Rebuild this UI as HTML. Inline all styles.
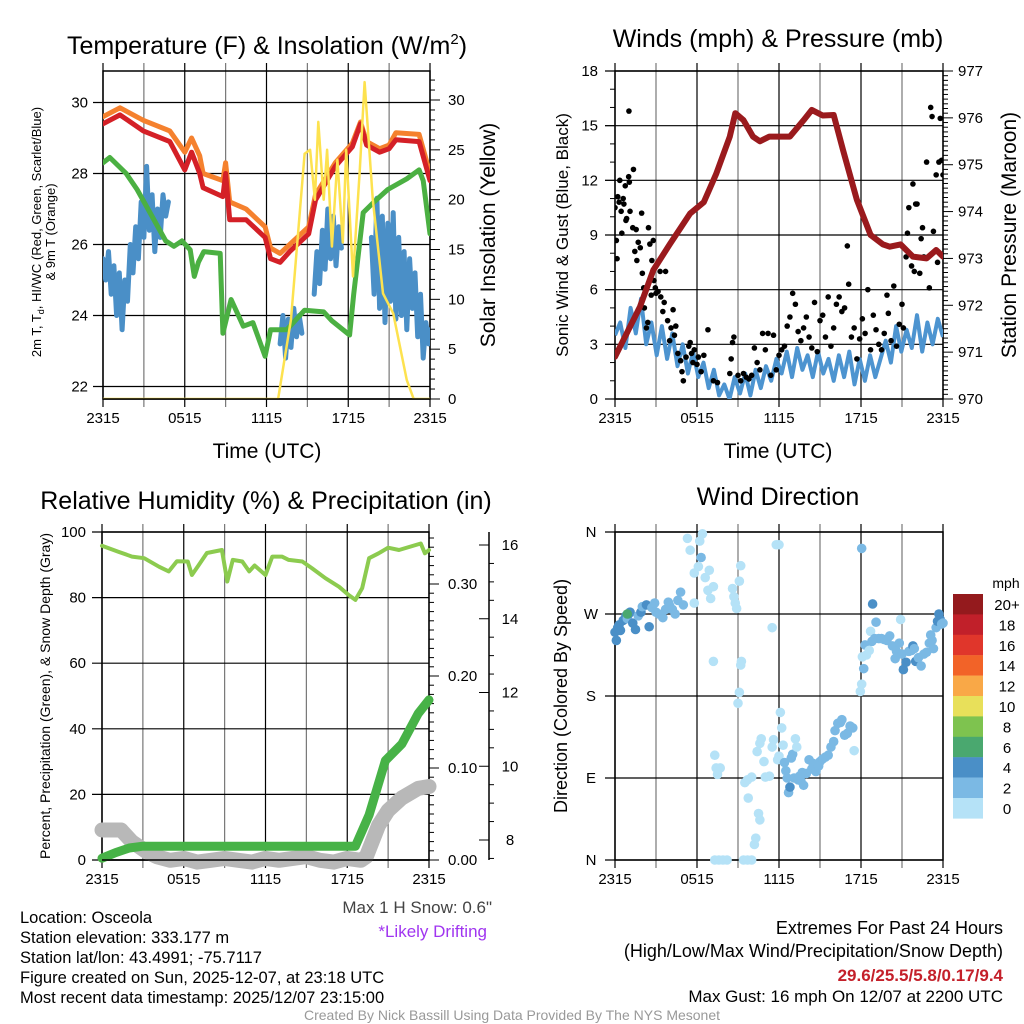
<!DOCTYPE html>
<html><head><meta charset="utf-8"><style>
html,body{margin:0;padding:0;background:#fff;}
svg{display:block;font-family:"Liberation Sans",Arial,sans-serif;}
</style></head><body>
<svg id="chart" width="1024" height="1024" viewBox="0 0 1024 1024" xmlns="http://www.w3.org/2000/svg"></svg>
<script>
// ---------- DATA ----------
const xTickLabels = ["2315","0515","1115","1715","2315"];
// Panel 1: temperature
const tempHours = [0,1.25,2.96,4.9,6,6.5,7.1,7.35,8.8,9,9.3,10.5,11.9,12.3,13,13.7,15.1,15.6,17.05,18.3,18.9,19.35,20.3,21,21.5,23.2,24];
const tempVals  = [29.4,29.65,29.2,28.9,28.1,28.6,28.0,27.6,27.35,28.0,26.7,26.7,26.2,25.6,25.5,25.8,26.3,27.25,28.2,28.75,29.4,28.8,28.6,28.7,28.95,28.9,27.8];
const t9Hours = [0,1.25,2.96,4.9,6,6.5,7.1,7.35,8.8,9,9.3,10.5,11.9,12.3,13,13.7,15.1,15.6,17.05,18.3,18.9,19.35,20.3,21,21.5,23.2,24];
const t9Vals  = [29.6,29.85,29.5,29.2,28.6,29.0,28.5,28.0,27.8,28.3,27.2,27.0,26.5,25.9,25.75,26.0,26.5,27.4,28.3,28.85,29.45,28.9,28.7,28.8,29.15,29.1,28.0];
const dewHours = [0,0.5,1.7,2.5,4.6,5.2,5.8,6.4,6.7,7.0,7.4,8.6,8.8,9.4,10.3,11,11.9,12.3,13.5,14.8,16.2,16.8,18.1,18.4,19.1,19.9,20.9,22.3,23.2,23.5,24];
const dewVals  = [28.3,28.45,28.0,27.55,26.1,25.95,26.1,25.85,25.1,25.5,25.8,25.75,23.5,24.45,23.7,23.8,22.85,23.6,23.6,24.15,24.1,23.85,23.45,24.6,26.9,27.2,27.55,27.85,28.1,27.8,26.3];
const wcSeg1Hours = [0,0.2,0.4,0.6,0.8,1.0,1.2,1.4,1.6,1.8,2.0,2.2,2.4,2.6,2.8,3.0,3.2,3.4,3.6,3.8,4.0,4.2,4.4,4.6,4.8];
const wcSeg1Vals  = [25.6,25.0,25.8,24.6,25.4,24.0,25.2,23.6,25.0,24.4,26.0,25.2,26.5,25.6,27.2,26.2,28.2,26.4,27.4,25.8,27.0,26.2,27.4,26.8,27.2];
const wcSeg2Hours = [13.0,13.2,13.4,13.6,13.8,14.0,14.2,14.4,14.6];
const wcSeg2Vals  = [23.2,24.0,22.8,23.9,23.1,24.2,23.4,24.0,23.5];
const wcSeg3Hours = [15.5,15.7,15.9,16.1,16.3,16.5,16.7,16.9,17.1,17.3,17.5];
const wcSeg3Vals  = [24.6,25.8,24.9,26.4,25.3,27.0,25.6,26.8,25.4,26.5,25.9];
const wcSeg4Hours = [19.7,19.9,20.1,20.3,20.5,20.7,20.9,21.1,21.3,21.5,21.7,21.9,22.1,22.3,22.5,22.7,22.9,23.1,23.3,23.5,23.7,23.9,24];
const wcSeg4Vals  = [26.2,24.6,27.3,24.2,26.8,23.8,26.6,24.4,26.9,23.9,26.2,24.0,25.8,23.6,25.6,24.2,25.2,23.4,24.6,22.8,23.8,23.2,23.6];
const solarHours = [0,12.85,13.8,14.8,15.2,15.55,15.8,16.2,16.45,16.8,17.2,17.6,17.85,18.35,18.85,19.2,19.8,20.55,21.3,22.3,22.8,24];
const solarVals  = [0,0,8,24.6,25,20,27.8,20,25,15.3,24,15.7,25,12.3,23,31.8,20,10.6,8.6,1.9,0,0];
// Panel 2: winds & pressure
const presHours = [0,1.83,2.8,4.0,5.5,6.5,7.4,8.4,8.8,9.4,10.1,10.6,11.3,12.1,12.8,13.8,14.4,15.2,16.0,16.7,17.7,18.7,19.6,20.1,20.9,21.8,22.8,23.5,24];
const presVals  = [970.9,971.97,972.75,973.3,973.96,974.2,974.8,975.6,976.1,975.95,975.6,975.5,975.6,975.6,975.6,975.95,976.17,976.05,976.06,975.3,974.25,973.5,973.3,973.25,973.3,973.04,973.0,973.18,973.04];
const windVals = [3.5,4.2,2.8,5.0,3.6,5.5,3.0,4.2,2.4,4.0,2.2,3.6,1.8,3.0,1.4,2.6,1.2,2.0,0.6,1.6,0.2,0.8,0.0,1.2,0.3,1.4,0.2,1.6,0.6,1.8,1.0,2.2,1.4,2.6,1.2,2.8,1.6,2.4,1.2,2.6,1.4,2.2,1.0,2.4,1.2,2.6,0.8,2.2,1.0,2.4,1.2,2.2,3.2,2.0,4.0,2.6,3.8,2.8,4.6,2.6,4.2,3.0,4.4,3.4];
const gustHours = [0.0,0.1,0.15,0.2,0.3,0.35,0.45,0.5,0.6,0.65,0.75,0.8,0.85,1.0,1.02,1.05,1.1,1.3,1.35,1.45,1.55,1.6,1.7,1.85,1.95,2.0,2.1,2.15,2.3,2.4,2.45,2.55,2.65,2.7,2.8,2.85,2.95,3.0,3.15,3.3,3.35,3.5,3.6,3.7,3.85,4.0,4.1,4.25,4.35,4.45,4.6,4.8,4.9,5.0,5.2,5.4,5.5,5.6,5.7,5.8,6.0,6.1,6.3,6.5,6.8,7.2,7.5,8.4,8.5,8.6,8.7,9.0,9.2,9.4,9.6,9.8,10.0,10.2,10.4,10.6,10.8,11.0,11.2,11.4,11.6,11.8,12.0,12.2,12.4,12.6,12.8,13.0,13.2,13.4,13.6,13.8,14.0,14.2,14.4,14.6,14.8,15.0,15.2,15.4,15.6,15.8,16.0,16.2,16.4,16.6,16.8,17.0,17.1,17.3,17.5,17.7,17.9,18.1,18.3,18.5,18.7,18.9,19.1,19.3,19.5,19.7,19.9,20.0,20.2,20.4,20.6,20.8,21.0,21.1,21.3,21.4,21.5,21.7,21.8,21.9,22.0,22.1,22.3,22.4,22.5,22.6,22.8,23.0,23.1,23.2,23.3,23.5,23.6,23.7,23.8,23.9,24.0];
const gustVals  = [10.5,8.7,7.7,11.1,10.8,12.0,10.3,9.1,11.0,10.7,11.7,9.8,9.9,12.2,15.8,11.9,10.3,9.4,12.6,8.1,9.3,7.6,8.6,8.3,10.2,6.9,6.1,5.0,3.9,4.2,9.4,8.5,5.7,7.6,8.7,6.5,6.1,5.8,5.9,7.0,5.6,4.8,5.3,7.0,4.3,3.2,3.9,4.9,3.5,4.0,2.5,2.1,1.5,1.0,2.3,2.9,3.1,2.5,2.0,2.7,1.9,2.3,1.5,2.4,3.8,1.0,0.9,1.4,2.2,3.1,3.4,1.3,1.0,1.4,1.2,1.1,1.3,2.8,2.0,1.6,3.6,2.7,3.6,1.3,3.5,1.6,2.4,2.7,2.9,4.0,4.5,5.8,5.2,3.7,3.2,3.9,4.5,3.4,2.8,5.3,2.6,4.3,4.6,3.4,5.6,2.9,3.9,5.2,5.6,4.8,5.0,8.4,6.3,3.4,3.9,2.2,3.3,4.4,3.6,6.0,2.7,4.6,3.8,3.0,2.7,3.6,5.7,4.7,3.2,6.2,2.9,4.1,5.2,3.9,7.8,9.1,10.5,7.3,11.8,7.0,10.7,10.7,6.9,8.8,9.4,7.8,13.0,6.1,16.0,15.5,9.2,12.3,7.5,13.0,15.4,13.1,12.3];
// Panel 3: RH, precip, snow
const rhHours = [0,1.2,2.2,3.1,4.2,4.9,5.5,6.3,6.6,7.1,7.7,8.8,9.2,9.6,10.3,10.8,11.2,12.0,12.5,13.2,13.7,14.7,15.4,16.4,17.4,18.1,18.6,19.1,19.6,20.3,21.0,21.8,23.4,23.7,24];
const rhVals  = [95.8,94.0,92.5,92.0,89.4,88.0,91.1,91.0,86.9,89.9,93.6,94.5,84.9,91.5,91.0,88.0,89.8,86.9,92.5,92.5,91.5,91.0,89.0,85.9,83.3,80.8,79.3,82.9,92.0,93.5,95.2,94.5,96.5,93.5,94.5];
const precipHours = [0,1,2,3,18.6,19.6,20.8,22.0,23.2,24];
const precipVals  = [0.002,0.008,0.013,0.015,0.015,0.049,0.108,0.126,0.159,0.174];
const snowHours = [0,1.4,2.2,3.2,4,5,6,7,8,9,10,11,12,13,14,15,16,17,18,19,19.4,20.3,21,22,23.2,24];
const snowVals  = [8.27,8.27,7.95,7.7,7.55,7.45,7.5,7.4,7.45,7.5,7.45,7.4,7.5,7.45,7.5,7.55,7.45,7.4,7.5,7.45,7.55,8.4,8.8,9.14,9.4,9.45];
// Panel 4: wind direction
const dirHours = [0.0,0.1,0.2,0.3,0.4,0.6,0.8,0.9,1.0,1.1,1.3,1.5,1.7,1.9,2.0,2.3,2.5,2.7,2.9,3.0,3.2,3.5,3.7,3.9,4.0,4.2,4.4,4.6,4.8,5.0,5.5,5.3,5.8,6.1,6.2,6.4,6.6,6.8,6.3,6.9,7.2,7.0,5.8,8.6,8.7,8.8,8.9,9.1,9.2,11.8,12.0,18.05,7.2,9.25,9.2,11.5,9.0,9.1,7.3,7.4,7.5,7.7,9.5,9.7,10.0,9.75,10.5,10.6,10.3,10.2,7.3,7.6,7.9,8.2,9.4,9.7,10.0,10.4,10.6,10.7,10.9,11.0,11.3,11.5,11.6,11.9,12.0,12.1,12.2,12.3,12.4,12.5,12.6,12.7,12.8,12.9,13.0,13.1,13.2,13.3,13.4,13.5,13.6,13.7,13.8,14.0,14.2,14.4,14.5,14.7,14.9,15.0,15.2,15.4,15.6,15.8,16.0,16.1,16.3,16.5,16.6,16.8,17.0,17.2,17.4,17.5,17.95,18.05,18.2,18.1,18.3,18.4,18.6,18.7,18.8,19.0,18.85,19.1,19.3,19.5,19.7,19.9,20.1,20.3,20.5,20.6,20.8,21.0,21.1,21.3,21.5,21.7,21.8,21.9,22.0,22.2,22.4,22.6,22.8,23.0,23.1,23.2,23.3,23.5,23.6,23.7,23.8,23.9,24.0,20.9,0.9];
const dirDegs  = [250,241,255,258,252,263,268,265,270,272,260,253,268,272,278,280,256,277,282,272,270,266,275,283,279,275,270,285,294,280,340,353,315,322,350,358,310,296,332,318,300,287,282,298,289,282,276,306,323,346,346,342,218,218,214,255,172,184,115,101,94,101,85,88,91,68,51,44,24,17,0,0,0,0,0,0,0,119,128,133,108,91,92,124,132,110,114,162,145,126,107,98,90,74,80,112,116,90,133,124,88,92,87,96,82,95,110,100,106,97,103,108,111,113,115,124,130,142,150,151,154,137,139,147,145,120,185,193,210,223,236,225,230,251,240,243,281,261,243,243,242,241,246,235,221,229,238,226,209,217,229,230,235,232,218,222,213,226,228,238,247,241,232,255,262,270,264,259,260,264,270];
const dirSpeeds = [4,4,4,5,4,4,5,3,5,4,4,5,3,4,3,4,4,3,3,3,2,2,3,3,3,3,3,3,3,2,1,0,1,1,1,1,1,1,3,1,1,1,0,1,1,1,1,1,1,1,1,2,1,1,1,1,1,1,1,1,1,1,1,1,1,1,1,1,1,1,1,1,1,1,1,1,1,1,1,1,1,1,1,1,1,1,1,1,1,1,2,2,3,3,4,2,3,2,1,1,3,3,2,2,2,3,2,2,3,2,3,2,2,3,2,3,2,2,2,3,3,3,2,2,2,1,1,1,2,1,2,1,1,1,2,2,4,3,2,2,2,2,2,3,3,3,2,3,4,4,3,3,4,3,4,3,3,3,2,3,3,2,3,3,4,4,4,3,3,0,6];
const cbLabels = ["20+","18","16","14","12","10","8","6","4","2","0"];
const cbColors = ["#941a1d","#c1202a","#e0362b","#f26328","#f9a847","#e8e05a","#7ec34f","#4aa86f","#4a8fc7","#7bb9e4","#b5e2f7"];

// ---------- HELPERS ----------
const NS = "http://www.w3.org/2000/svg";
const svg = document.getElementById("chart");
function mk(parent, tag, attrs, name, inter) {
  const el = document.createElementNS(NS, tag);
  for (const k in attrs) el.setAttribute(k, attrs[k]);
  
  
  parent.appendChild(el);
  return el;
}
function txt(parent, x, y, s, size, anchor, name, extra) {
  const a = Object.assign({x:x, y:y, "font-size":size, "text-anchor":anchor||"middle", fill:"#000"}, extra||{});
  const t = mk(parent, "text", a, name, false);
  t.textContent = s;
  return t;
}
function lin(d0,d1,r0,r1){ return v => r0 + (v-d0)*(r1-r0)/(d1-d0); }
function pathFrom(xs, ys, fx, fy){
  return xs.map((h,i)=>(i?"L":"M")+fx(h).toFixed(1)+","+fy(ys[i]).toFixed(1)).join(" ");
}
function frame(g, L, R, T, B, xs, ys, name){
  xs.forEach((x,i)=>{ mk(g,"line",{x1:x,x2:x,y1:T-8,y2:B+8,stroke:(i%2?"#777":"#000"),"stroke-width":1.2},"x-grid-line",false); });
  ys.forEach(y=>{ mk(g,"line",{x1:L-10,x2:R,y1:y,y2:y,stroke:"#000","stroke-width":1.2},"y-grid-line",false); });
  mk(g,"rect",{x:L,y:T,width:R-L,height:B-T,fill:"none",stroke:"#000","stroke-width":1.5},name,false);
}
function xAxis(g, fx, B, ly){
  xTickLabels.forEach((s,i)=>{ txt(g, fx(i*6), ly, s, 15, "middle", "x-tick-label"); });
}

// ---------- PANEL 1 ----------
(function(){
  const g = mk(svg,"g",{},"temperature-panel",false);
  const L=103,R=430,T=71,B=399;
  const fx = lin(0,24,L,R), fy = lin(22,30,386.5,102.5), fs = lin(0,30,399,100);
  const gx=[0,3,6,9,12,15,18,21,24].map(fx), gy=[22,24,26,28,30].map(fy);
  frame(g,L,R,T,B,gx,gy,"temperature-plot-frame");
  [22,24,26,28,30].forEach(v=>txt(g,88,fy(v)+5,String(v),15,"end","left-tick-label"));
  for(let v=0;v<=32;v++){ const y=fs(v); if(y<T) continue; mk(g,"line",{x1:R,x2:R+(v%5?5:10),y1:y,y2:y,stroke:"#000"},"right-tick",false); if(v%5===0) txt(g,448,y+5,String(v),15,"start","right-tick-label"); }
  const clip = mk(g,"clipPath",{id:"c1"},"clip-1",false); mk(clip,"rect",{x:L,y:T,width:R-L,height:B-T},"clip-rect",false);
  const d = mk(g,"g",{"clip-path":"url(#c1)"},"temperature-series",false);
  mk(d,"path",{d:pathFrom(wcSeg1Hours,wcSeg1Vals,fx,fy),fill:"none",stroke:"#4a8fc7","stroke-width":5,"stroke-linejoin":"round","stroke-linecap":"round"},"windchill-line-1",false);
  mk(d,"path",{d:pathFrom(wcSeg2Hours,wcSeg2Vals,fx,fy),fill:"none",stroke:"#4a8fc7","stroke-width":5,"stroke-linejoin":"round","stroke-linecap":"round"},"windchill-line-2",false);
  mk(d,"path",{d:pathFrom(wcSeg3Hours,wcSeg3Vals,fx,fy),fill:"none",stroke:"#4a8fc7","stroke-width":5,"stroke-linejoin":"round","stroke-linecap":"round"},"windchill-line-3",false);
  mk(d,"path",{d:pathFrom(wcSeg4Hours,wcSeg4Vals,fx,fy),fill:"none",stroke:"#4a8fc7","stroke-width":5,"stroke-linejoin":"round","stroke-linecap":"round"},"windchill-line-4",false);
  mk(d,"path",{d:pathFrom(dewHours,dewVals,fx,fy),fill:"none",stroke:"#4bb042","stroke-width":5,"stroke-linejoin":"round","stroke-linecap":"round"},"dewpoint-line",false);
  mk(d,"path",{d:pathFrom(t9Hours,t9Vals,fx,fy),fill:"none",stroke:"#f5812e","stroke-width":5,"stroke-linejoin":"round","stroke-linecap":"round"},"temp-9m-line",false);
  mk(d,"path",{d:pathFrom(tempHours,tempVals,fx,fy),fill:"none",stroke:"#d42027","stroke-width":5,"stroke-linejoin":"round","stroke-linecap":"round"},"temp-2m-line",false);
  mk(d,"path",{d:pathFrom(solarHours,solarVals,fx,fs),fill:"none",stroke:"#fde24f","stroke-width":2.5,"stroke-linejoin":"round"},"solar-line",false);
  mk(g,"line",{x1:L,x2:R,y1:B,y2:B,stroke:"#000","stroke-width":1.5},"x-axis-line",false);
  xAxis(g,fx,B,423);
  const tt = txt(g,267,54,"Temperature (F) & Insolation (W/m",25,"middle","temperature-title");
  const sup = document.createElementNS(NS,"tspan"); sup.setAttribute("dy","-10"); sup.setAttribute("font-size","15"); sup.textContent="2"; tt.appendChild(sup);
  const cl = document.createElementNS(NS,"tspan"); cl.setAttribute("dy","10"); cl.textContent=")"; tt.appendChild(cl);
  txt(g,267,458,"Time (UTC)",21,"middle","x-axis-title");
  const yl = mk(g,"text",{transform:"translate(41,232) rotate(-90)","font-size":13,"text-anchor":"middle"},"left-axis-title",false);
  yl.innerHTML = '<tspan x="0" dy="0">2m T, T<tspan font-size="9" dy="3">d</tspan><tspan dy="-3">, HI/WC (Red, Green, Scarlet/Blue)</tspan></tspan><tspan x="0" dy="14">&amp; 9m T (Orange)</tspan>';
  txt(g,0,0,"Solar Insolation (Yellow)",21,"middle","right-axis-title",{transform:"translate(495,235) rotate(-90)"});
})();

// ---------- PANEL 2 ----------
(function(){
  const g = mk(svg,"g",{},"winds-panel",false);
  const L=615,R=943,T=71,B=399;
  const fx = lin(0,24,L,R), fy = lin(0,18,B,T), fp = lin(970,977,B,T);
  const gx=[0,3,6,9,12,15,18,21,24].map(fx), gy=[0,3,6,9,12,15,18].map(fy);
  frame(g,L,R,T,B,gx,gy,"winds-plot-frame");
  [0,3,6,9,12,15,18].forEach(v=>txt(g,598,fy(v)+5,String(v),15,"end","left-tick-label"));
  for(let v=0;v<=70;v++){ const p=970+v/10; const y=fp(p); mk(g,"line",{x1:R,x2:R+(v%10?5:10),y1:y,y2:y,stroke:"#000"},"right-tick",false); if(v%10===0) txt(g,958,y+5,String(Math.round(p)),15,"start","right-tick-label"); }
  for(let v=0;v<=18;v++){ const y=fy(v); mk(g,"line",{x1:L-(v%3?5:10),x2:L,y1:y,y2:y,stroke:"#000"},"left-tick",false); }
  const clip = mk(g,"clipPath",{id:"c2"},"clip-2",false); mk(clip,"rect",{x:L,y:T-3,width:R-L,height:B-T+3},"clip-rect",false);
  const d = mk(g,"g",{"clip-path":"url(#c2)"},"wind-series",false);
  const wh = windVals.map((v,i)=>i*24/(windVals.length-1));
  mk(d,"path",{d:pathFrom(wh,windVals,fx,fy),fill:"none",stroke:"#4d94d0","stroke-width":4,"stroke-linejoin":"round"},"sonic-wind-line",false);
  gustHours.forEach((h,i)=>{ mk(d,"circle",{cx:fx(h),cy:fy(gustVals[i]),r:2.8,fill:"#000"},"gust-point",false); });
  mk(d,"path",{d:pathFrom(presHours,presVals,fx,fp),fill:"none",stroke:"#9a1a1d","stroke-width":6,"stroke-linejoin":"round","stroke-linecap":"round"},"pressure-line",false);
  xAxis(g,fx,B,423);
  txt(g,778,47,"Winds (mph) & Pressure (mb)",25,"middle","winds-title");
  txt(g,778,458,"Time (UTC)",21,"middle","x-axis-title");
  txt(g,0,0,"Sonic Wind & Gust (Blue, Black)",17,"middle","left-axis-title",{transform:"translate(568,235) rotate(-90)"});
  txt(g,0,0,"Station Pressure (Maroon)",21,"middle","right-axis-title",{transform:"translate(1016,235) rotate(-90)"});
})();

// ---------- PANEL 3 ----------
(function(){
  const g = mk(svg,"g",{},"humidity-panel",false);
  const L=102,R=429,T=532,B=860;
  const fx = lin(0,24,L,R), fy = lin(0,100,B,T), fp = lin(0,0.1,B,768), fs = lin(8,16,840,545);
  const gx=[0,3,6,9,12,15,18,21,24].map(fx), gy=[0,20,40,60,80,100].map(fy);
  frame(g,L,R,T,B,gx,gy,"humidity-plot-frame");
  [0,20,40,60,80,100].forEach(v=>txt(g,86,fy(v)+5,String(v),15,"end","left-tick-label"));
  for(let v=0;v<=35;v++){ const y=fp(v/100); if(y<T) continue; mk(g,"line",{x1:R,x2:R+(v%10?5:10),y1:y,y2:y,stroke:"#000"},"precip-tick",false); if(v%10===0) txt(g,448,y+5,(v/100).toFixed(2),15,"start","precip-tick-label"); }
  mk(g,"line",{x1:489,x2:489,y1:532,y2:860,stroke:"#000","stroke-width":1.5},"snow-axis-line",false);
  for(let v=7.5;v<=16.5;v+=0.5){ const y=fs(v); if(y<T||y>B) continue; const maj=(v%2===0); mk(g,"line",{x1:489-(maj?10:0),x2:489+(maj?0:5),y1:y,y2:y,stroke:"#000"},"snow-tick",false); if(maj) txt(g,510,y+5,String(v),15,"middle","snow-tick-label"); }
  mk(g,"path",{d:pathFrom(snowHours,snowVals,fx,fs),fill:"none",stroke:"#b8b8b8","stroke-width":15,"stroke-linejoin":"round","stroke-linecap":"round"},"snow-depth-line",false);
  mk(g,"path",{d:pathFrom(precipHours,precipVals,fx,fp),fill:"none",stroke:"#47b247","stroke-width":9,"stroke-linejoin":"round","stroke-linecap":"round"},"precip-line",false);
  mk(g,"path",{d:pathFrom(rhHours,rhVals,fx,fy),fill:"none",stroke:"#8ccb4f","stroke-width":4,"stroke-linejoin":"round","stroke-linecap":"round"},"rh-line",false);
  mk(g,"line",{x1:L,x2:R,y1:B,y2:B,stroke:"#000","stroke-width":1.5},"x-axis-line",false);
  xAxis(g,fx,B,884);
  txt(g,266,509,"Relative Humidity (%) & Precipitation (in)",25,"middle","humidity-title");
  txt(g,0,0,"Percent, Precipitation (Green), & Snow Depth (Gray)",14,"middle","left-axis-title",{transform:"translate(50,696) rotate(-90)"});
  txt(g,492,913,"Max 1 H Snow: 0.6\"",17,"end","max-snow-note",{fill:"#444"});
  txt(g,487,937,"*Likely Drifting",17,"end","drifting-note",{fill:"#a035f0"});
})();

// ---------- PANEL 4 ----------
(function(){
  const g = mk(svg,"g",{},"direction-panel",false);
  const L=615,R=943,T=532,B=860;
  const fx = lin(0,24,L,R), fy = lin(0,360,B,T);
  const gx=[0,3,6,9,12,15,18,21,24].map(fx), gy=[0,90,180,270,360].map(fy);
  frame(g,L,R,T,B,gx,gy,"direction-plot-frame");
  ["N","E","S","W","N"].forEach((s,i)=>txt(g,591,fy(i*90)+5,s,15,"middle","direction-tick-label"));
  function col(s){ const idx = Math.min(10, Math.floor(s/2)); return cbColors[10-idx]; }
  dirHours.forEach((h,i)=>{ mk(g,"circle",{cx:fx(h),cy:fy(dirDegs[i]),r:4.8,fill:col(dirSpeeds[i])},"direction-point",false); });
  xAxis(g,fx,B,884);
  txt(g,778,505,"Wind Direction",25,"middle","direction-title");
  txt(g,0,0,"Direction (Colored By Speed)",18,"middle","left-axis-title",{transform:"translate(567,696) rotate(-90)"});
  const cb = mk(g,"g",{},"speed-colorbar",false);
  cbColors.forEach((c,i)=>{ mk(cb,"rect",{x:953,y:594+i*20.4,width:30,height:20.6,fill:c},"colorbar-swatch",false); txt(cb,1007,594+i*20.4+16,cbLabels[i],15,"middle","colorbar-label"); });
  txt(cb,1006,588,"mph",14,"middle","colorbar-title");
})();

// ---------- FOOTER TEXT ----------
(function(){
  const g = mk(svg,"g",{},"footer-info",false);
  const lines = ["Location: Osceola","Station elevation: 333.177 m","Station lat/lon: 43.4991; -75.7117","Figure created on Sun, 2025-12-07, at 23:18 UTC","Most recent data timestamp: 2025/12/07 23:15:00"];
  lines.forEach((s,i)=>txt(g,20,923+i*20,s,16.5,"start","station-info-line"));
  txt(g,1003,934,"Extremes For Past 24 Hours",18,"end","extremes-heading");
  txt(g,1003,957,"(High/Low/Max Wind/Precipitation/Snow Depth)",18,"end","extremes-legend");
  txt(g,1003,981,"29.6/25.5/5.8/0.17/9.4",17,"end","extremes-values",{fill:"#c4202a","font-weight":"bold"});
  txt(g,1003,1002,"Max Gust: 16 mph On 12/07 at 2200 UTC",17,"end","max-gust-note");
  txt(g,512,1020,"Created By Nick Bassill Using Data Provided By The NYS Mesonet",14,"middle","credit-line",{fill:"#999"});
})();
</script>
</body></html>
